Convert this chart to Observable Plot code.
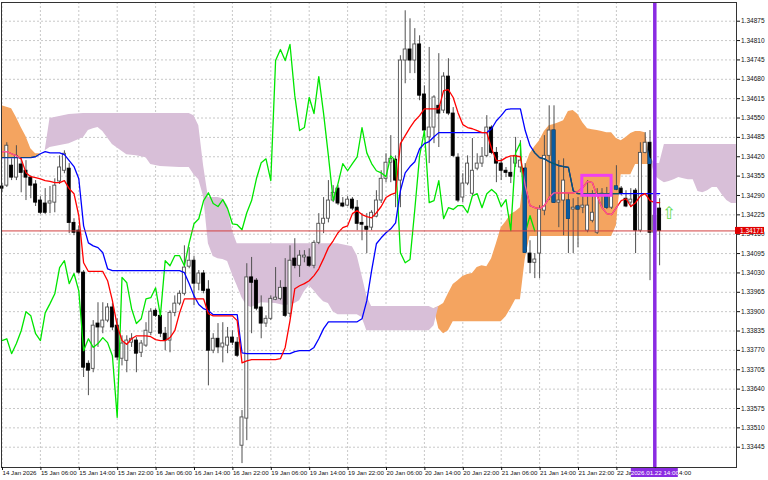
<!DOCTYPE html>
<html><head><meta charset="utf-8">
<script src="https://cdn.jsdelivr.net/npm/d3@7"></script>
<script src="https://cdn.jsdelivr.net/npm/@observablehq/plot@0.6"></script>
<style>html,body{margin:0;padding:0;background:#fff;}svg{display:block}</style>
</head><body>
<div id="chart"></div>
<script>
// ---- H1 candles (bar index 0 = 14 Jan 22:00) ----
const openP = [
1.34320,1.34323,1.34390,1.34350,1.34394,1.34373,1.34350,1.34327,1.34273,1.34263,
1.34263,1.34266,1.34337,1.34373,1.34380,1.34198,1.34172,1.34031,1.33725,1.33708,
1.33860,1.33847,1.33870,1.33914,1.33853,1.33742,1.33735,1.33796,1.33803,1.33762,
1.33786,1.33829,1.33903,1.33886,1.33826,1.33803,1.33896,1.33927,1.33960,1.34051,
1.34071,1.33994,1.34028,1.33974,1.33769,1.33809,1.33780,1.33786,1.33813,1.33796,
1.33450,1.33541,1.34015,1.34004,1.33914,1.33860,1.33876,1.33940,1.33943,1.33980,
1.33893,1.34078,1.34054,1.34082,1.34082,1.34054,1.34131,1.34195,1.34212,1.34273,
1.34313,1.34263,1.34256,1.34276,1.34249,1.34198,1.34185,1.34182,1.34219,1.34273,
1.34346,1.34400,1.34410,1.34340,1.34743,1.34780,1.34743,1.34797,1.34629,1.34485,
1.34518,1.34591,1.34575,1.34689,1.34565,1.34417,1.34283,1.34330,1.34296,1.34380,
1.34397,1.34423,1.34518,1.34433,1.34397,1.34373,1.34366,1.34397,1.34384,1.34380,
1.34095,1.34064,1.34095,1.34239,1.34423,1.34508,1.34266,1.34273,1.34273,1.34243,
1.34253,1.34249,1.34172,1.34205,1.34165,1.34289,1.34289,1.34249,1.34320,1.34313,
1.34279,1.34266,1.34306,1.34172,1.34433,1.34467,1.34165,1.34246];
const highP = [
1.34330,1.34467,1.34413,1.34457,1.34413,1.34407,1.34356,1.34340,1.34286,1.34313,
1.34320,1.34346,1.34423,1.34440,1.34397,1.34212,1.34188,1.34038,1.33735,1.33870,
1.33930,1.33930,1.33927,1.33927,1.33876,1.33819,1.33819,1.33826,1.33813,1.33803,
1.33863,1.33910,1.33910,1.33893,1.33847,1.33903,1.33953,1.33970,1.34121,1.34115,
1.34085,1.34038,1.34038,1.34004,1.33826,1.33860,1.33863,1.33847,1.33836,1.33813,
1.33568,1.34061,1.34082,1.34011,1.33953,1.33886,1.33953,1.34048,1.34004,1.34078,
1.34121,1.34145,1.34105,1.34105,1.34111,1.34138,1.34229,1.34283,1.34340,1.34323,
1.34323,1.34283,1.34286,1.34283,1.34273,1.34229,1.34229,1.34239,1.34306,1.34373,
1.34430,1.34491,1.34423,1.34759,1.34910,1.34883,1.34850,1.34826,1.34658,1.34787,
1.34625,1.34766,1.34702,1.34749,1.34585,1.34430,1.34363,1.34423,1.34481,1.34430,
1.34451,1.34558,1.34524,1.34451,1.34413,1.34384,1.34417,1.34485,1.34474,1.34397,
1.34138,1.34095,1.34256,1.34491,1.34591,1.34591,1.34407,1.34413,1.34296,1.34279,
1.34283,1.34289,1.34340,1.34306,1.34313,1.34313,1.34317,1.34340,1.34390,1.34320,
1.34306,1.34313,1.34313,1.34467,1.34501,1.34508,1.34256,1.34279];
const lowP = [
1.34299,1.34317,1.34340,1.34340,1.34299,1.34273,1.34279,1.34253,1.34226,1.34226,
1.34229,1.34232,1.34327,1.34363,1.34162,1.34155,1.34025,1.33679,1.33618,1.33695,
1.33780,1.33826,1.33863,1.33836,1.33735,1.33718,1.33695,1.33780,1.33695,1.33746,
1.33780,1.33819,1.33880,1.33813,1.33769,1.33762,1.33883,1.33920,1.33953,1.34044,
1.33920,1.33970,1.33960,1.33651,1.33759,1.33759,1.33728,1.33759,1.33786,1.33746,
1.33390,1.33467,1.33826,1.33903,1.33809,1.33847,1.33870,1.33937,1.33937,1.33880,
1.33880,1.34044,1.34015,1.34064,1.34048,1.34044,1.34125,1.34162,1.34198,1.34266,
1.34256,1.34249,1.34253,1.34239,1.34172,1.34138,1.34095,1.34172,1.34215,1.34263,
1.34333,1.34333,1.34249,1.34249,1.34665,1.34699,1.34699,1.34608,1.34498,1.34397,
1.34464,1.34451,1.34565,1.34558,1.34417,1.34266,1.34266,1.34323,1.34289,1.34373,
1.34384,1.34417,1.34427,1.34333,1.34340,1.34350,1.34330,1.34384,1.34366,1.34095,
1.34028,1.34011,1.34011,1.34222,1.34273,1.34263,1.34182,1.34155,1.34095,1.34095,
1.34115,1.34229,1.34165,1.34198,1.34159,1.34249,1.34243,1.34243,1.34306,1.34289,
1.34249,1.34249,1.34095,1.34165,1.34430,1.34004,1.34138,1.34054];
const closeP = [
1.34313,1.34457,1.34350,1.34423,1.34366,1.34350,1.34323,1.34266,1.34232,1.34232,
1.34270,1.34323,1.34384,1.34430,1.34198,1.34165,1.34031,1.33712,1.33702,1.33853,
1.33847,1.33870,1.33914,1.33847,1.33746,1.33793,1.33803,1.33809,1.33759,1.33793,
1.33836,1.33900,1.33886,1.33826,1.33803,1.33896,1.33927,1.33960,1.34048,1.34071,
1.33994,1.34028,1.33970,1.33769,1.33809,1.33780,1.33793,1.33813,1.33796,1.33752,
1.33545,1.34015,1.33997,1.33910,1.33860,1.33876,1.33943,1.33947,1.33980,1.33886,
1.34071,1.34054,1.34088,1.34088,1.34054,1.34131,1.34195,1.34212,1.34273,1.34299,
1.34263,1.34253,1.34276,1.34246,1.34195,1.34192,1.34175,1.34232,1.34273,1.34346,
1.34400,1.34413,1.34340,1.34743,1.34780,1.34743,1.34797,1.34625,1.34508,1.34518,
1.34619,1.34565,1.34689,1.34565,1.34423,1.34273,1.34330,1.34397,1.34373,1.34397,
1.34420,1.34518,1.34433,1.34397,1.34373,1.34366,1.34353,1.34423,1.34407,1.34098,
1.34064,1.34075,1.34243,1.34423,1.34508,1.34266,1.34273,1.34340,1.34212,1.34249,
1.34243,1.34256,1.34256,1.34232,1.34289,1.34296,1.34249,1.34296,1.34310,1.34296,
1.34253,1.34276,1.34172,1.34433,1.34467,1.34165,1.34222,1.34171];

// ---- Ichimoku lines (per bar) ----
const tenkan = [
1.34437,1.34437,1.34430,1.34423,1.34413,1.34366,1.34353,1.34350,1.34346,1.34340,
1.34337,1.34333,1.34333,1.34340,1.34313,1.34296,1.34222,1.34064,1.34035,1.34035,
1.34035,1.34035,1.34004,1.33937,1.33853,1.33803,1.33790,1.33809,1.33819,1.33819,
1.33819,1.33816,1.33806,1.33803,1.33803,1.33813,1.33836,1.33896,1.33943,1.33943,
1.33943,1.33943,1.33943,1.33893,1.33886,1.33886,1.33886,1.33886,1.33886,1.33870,
1.33728,1.33735,1.33739,1.33739,1.33739,1.33739,1.33739,1.33739,1.33742,1.33780,
1.33870,1.33977,1.33987,1.33994,1.34004,1.34021,1.34044,1.34078,1.34115,1.34138,
1.34165,1.34182,1.34188,1.34229,1.34239,1.34226,1.34219,1.34215,1.34232,1.34253,
1.34283,1.34293,1.34299,1.34464,1.34491,1.34518,1.34541,1.34558,1.34581,1.34581,
1.34581,1.34581,1.34642,1.34645,1.34619,1.34568,1.34528,1.34518,1.34514,1.34508,
1.34501,1.34501,1.34447,1.34407,1.34407,1.34417,1.34423,1.34423,1.34420,1.34323,
1.34256,1.34249,1.34246,1.34256,1.34283,1.34299,1.34299,1.34299,1.34299,1.34299,
1.34303,1.34317,1.34337,1.34333,1.34289,1.34249,1.34229,1.34226,1.34249,1.34273,
1.34279,1.34253,1.34266,1.34289,1.34296,1.34273,1.34266,1.34266];
const kijun = [
1.34417,1.34417,1.34417,1.34417,1.34417,1.34417,1.34417,1.34420,1.34430,1.34437,
1.34433,1.34433,1.34433,1.34427,1.34407,1.34387,1.34346,1.34188,1.34131,1.34121,
1.34115,1.34098,1.34044,1.34038,1.34038,1.34038,1.34038,1.34038,1.34038,1.34038,
1.34038,1.34038,1.34038,1.34038,1.34038,1.34038,1.34038,1.34038,1.34031,1.33994,
1.33953,1.33924,1.33910,1.33903,1.33890,1.33890,1.33890,1.33890,1.33890,1.33890,
1.33762,1.33759,1.33759,1.33759,1.33759,1.33759,1.33759,1.33759,1.33759,1.33759,
1.33759,1.33766,1.33769,1.33769,1.33769,1.33780,1.33809,1.33843,1.33866,1.33866,
1.33866,1.33866,1.33866,1.33866,1.33866,1.33876,1.33937,1.34038,1.34128,1.34148,
1.34165,1.34178,1.34198,1.34306,1.34366,1.34387,1.34403,1.34447,1.34464,1.34471,
1.34487,1.34501,1.34501,1.34501,1.34501,1.34501,1.34501,1.34501,1.34501,1.34501,
1.34501,1.34501,1.34514,1.34541,1.34558,1.34578,1.34581,1.34581,1.34581,1.34508,
1.34457,1.34433,1.34417,1.34413,1.34403,1.34397,1.34390,1.34387,1.34384,1.34306,
1.34296,1.34296,1.34296,1.34296,1.34296,1.34296,1.34296,1.34296,1.34296,1.34296,
1.34296,1.34296,1.34296,1.34296,1.34296,1.34296,1.34296,1.34296];
const CHIKOU_SHIFT = 26;

// ---- Kumo as displayed (bar positions incl. future bars) ----
const cloudBar = [
0,2,3,4,5,6,7,8,9,10,
14,17,18,19,20,21,23,26,28,30,
31,33,37,39,40,41,42,43,44,45,
46,47,48,49,50,51,52,54,57,59,
61,62,63,64,65,66,67,68,69,70,
73,74,75,76,77,84,85,86,87,88,
89,90,91,92,93,94,95,96,97,98,
99,100,101,102,103,104,105,106,107,108,
109,110,111,112,113,114,115,116,117,118,
119,120,121,122,123,124,125,126,127,128,
129,130,131,132,133,134,135,136,137,138,
139,140,141,142,143,144,145,146,147,148,
149,150,151,152,153];
const spanA = [
1.34591,1.34581,1.34552,1.34518,1.34488,1.34447,1.34430,1.34430,1.34440,1.34451,
1.34464,1.34485,1.34508,1.34514,1.34518,1.34505,1.34461,1.34427,1.34423,1.34417,
1.34394,1.34387,1.34384,1.34384,1.34360,1.34343,1.34286,1.34128,1.34085,1.34078,
1.34075,1.34068,1.34025,1.33987,1.33947,1.33920,1.33914,1.33930,1.33927,1.33920,
1.33927,1.33937,1.33967,1.33987,1.33970,1.33950,1.33933,1.33927,1.33900,1.33890,
1.33890,1.33890,1.33880,1.33836,1.33836,1.33836,1.33836,1.33836,1.33836,1.33836,
1.33836,1.33853,1.33917,1.33927,1.33960,1.33991,1.34004,1.34018,1.34025,1.34028,
1.34048,1.34054,1.34051,1.34078,1.34128,1.34182,1.34202,1.34226,1.34235,1.34249,
1.34387,1.34430,1.34454,1.34474,1.34505,1.34524,1.34528,1.34534,1.34541,1.34572,
1.34575,1.34562,1.34534,1.34514,1.34511,1.34508,1.34505,1.34501,1.34501,1.34481,
1.34474,1.34485,1.34498,1.34505,1.34505,1.34501,1.34417,1.34356,1.34343,1.34333,
1.34337,1.34343,1.34350,1.34346,1.34343,1.34343,1.34303,1.34299,1.34306,1.34317,
1.34317,1.34293,1.34273,1.34263,1.34263];
const spanB = [
1.34417,1.34417,1.34417,1.34417,1.34417,1.34417,1.34420,1.34430,1.34440,1.34548,
1.34562,1.34565,1.34565,1.34565,1.34565,1.34565,1.34565,1.34565,1.34565,1.34565,
1.34565,1.34565,1.34565,1.34565,1.34558,1.34524,1.34390,1.34283,1.34283,1.34283,
1.34279,1.34256,1.34172,1.34128,1.34128,1.34128,1.34128,1.34128,1.34128,1.34128,
1.34128,1.34128,1.34128,1.34128,1.34128,1.34128,1.34128,1.34128,1.34128,1.34128,
1.34118,1.34088,1.34021,1.33953,1.33917,1.33917,1.33917,1.33917,1.33917,1.33917,
1.33917,1.33910,1.33843,1.33826,1.33836,1.33866,1.33866,1.33866,1.33866,1.33866,
1.33866,1.33866,1.33866,1.33866,1.33866,1.33866,1.33883,1.33910,1.33940,1.33940,
1.34075,1.34152,1.34152,1.34152,1.34152,1.34152,1.34152,1.34152,1.34152,1.34152,
1.34152,1.34152,1.34152,1.34152,1.34152,1.34152,1.34152,1.34152,1.34152,1.34188,
1.34360,1.34360,1.34360,1.34394,1.34394,1.34394,1.34394,1.34397,1.34397,1.34461,
1.34461,1.34461,1.34461,1.34461,1.34461,1.34461,1.34461,1.34461,1.34461,1.34461,
1.34461,1.34461,1.34461,1.34461,1.34461];

// ---- Axis ticks and labels ----
const yTicks = [1.34875,1.34810,1.34745,1.34680,1.34615,1.34550,1.34485,1.34420,1.34355,1.34290,1.34225,1.34160,
  1.34095,1.34030,1.33965,1.33900,1.33835,1.33770,1.33705,1.33640,1.33575,1.33510,1.33445];
const xTickBars = [0,8,16,24,32,40,48,56,64,72,80,88,96,104,112,120,128,136];
const xTickLabels = ["14 Jan 2026","15 Jan 06:00","15 Jan 14:00","15 Jan 22:00","16 Jan 06:00","16 Jan 14:00",
  "16 Jan 22:00","19 Jan 06:00","19 Jan 14:00","19 Jan 22:00","20 Jan 06:00","20 Jan 14:00","20 Jan 22:00",
  "21 Jan 06:00","21 Jan 14:00","21 Jan 22:00","22 Jan 06:00","22 Jan 14:00"];

// ---- chart objects ----
const LAST_PRICE = 1.34171;
const VLINE_BAR = 136;
const VLINE_LABEL = "2026.01.22 14:00";
const boxObj = [{x1: 120.9, x2: 127.0, top: 1.34356, bottom: 1.34289}];
const arrowObj = [{bar: 139, price: 1.34229}];

const X_DOMAIN = [-0.104, 153.02];
const Y_DOMAIN = [1.333769, 1.349378];

// colours
const KUMO_UP = "#f4a460", KUMO_DOWN = "#d8bfd8";
const INV_BEAR = "#0b5b9f", INV_KIJUN = "#0b5b60", INV_TENKAN = "#f45b9f";

const bars = openP.map((o, i) => ({i, open: o, high: highP[i], low: lowP[i], close: closeP[i]}));
const bulls = bars.filter(d => d.close >= d.open);
const bears = bars.filter(d => d.close < d.open);
const cloud = cloudBar.map((b, k) => ({bar: b, a: spanA[k], b: spanB[k]}));
const idx = (d, i) => i;
const val = d => d;
const upper = d => Math.max(d.a, d.b);

const chart = Plot.plot({
  width: 768, height: 480,
  marginLeft: 1, marginRight: 32, marginTop: 2, marginBottom: 13,
  x: {domain: X_DOMAIN, axis: null},
  y: {domain: Y_DOMAIN, axis: null},
  style: {fontFamily: "'Liberation Sans', Arial, sans-serif", fontSize: "6.2px", background: "white", color: "#111"},
  marks: [
    Plot.frame({fill: "white"}),
    Plot.gridY(yTicks, {stroke: "#c8c8c8", strokeOpacity: 1, strokeDasharray: "2,2"}),
    Plot.gridX(xTickBars, {stroke: "#c8c8c8", strokeOpacity: 1, strokeDasharray: "2,2"}),
    // Kumo: Senkou A above B -> sandy brown, B above A -> thistle
    Plot.areaY(cloud, {x: "bar", y1: "b", y2: upper, fill: KUMO_UP}),
    Plot.areaY(cloud, {x: "bar", y1: "a", y2: upper, fill: KUMO_DOWN}),
    // candles
    Plot.ruleX(bars, {x: "i", y1: "low", y2: "high", stroke: "#505050", strokeWidth: 1}),
    Plot.rect(bulls, {x1: "i", x2: "i", y1: "open", y2: "close", insetLeft: -1.5, insetRight: -1.5, fill: "white", stroke: "#505050", strokeWidth: 0.9}),
    Plot.rect(bears, {x1: "i", x2: "i", y1: "open", y2: "close", insetLeft: -1.5, insetRight: -1.5, fill: "black", stroke: "black", strokeWidth: 0.9}),
    // Ichimoku lines
    Plot.line(closeP, {x: (d, i) => i - CHIKOU_SHIFT, y: val, stroke: "#00e600", strokeWidth: 1.3, clip: true}),
    Plot.line(kijun, {x: idx, y: val, stroke: "#0000ff", strokeWidth: 1.3}),
    Plot.line(tenkan, {x: idx, y: val, stroke: "#ff0000", strokeWidth: 1.3}),
    // the terminal inverts what lies under the sandy-brown kumo: same marks, inverted colours, clipped to it below
    Plot.rect(bears, {x1: "i", x2: "i", y1: "open", y2: "close", insetLeft: -1.5, insetRight: -1.5, fill: INV_BEAR, stroke: INV_BEAR, strokeWidth: 0.9}),
    Plot.line(kijun, {x: idx, y: val, stroke: INV_KIJUN, strokeWidth: 1.3}),
    Plot.line(tenkan, {x: idx, y: val, stroke: INV_TENKAN, strokeWidth: 1.3}),
    // objects
    Plot.ruleY([LAST_PRICE], {stroke: "#d24040", strokeWidth: 1}),
    Plot.rect(boxObj, {x1: "x1", x2: "x2", y1: "top", y2: "bottom", fill: "none", stroke: "#f040f0", strokeWidth: 3}),
    Plot.ruleX([VLINE_BAR], {stroke: "#8a2be2", strokeWidth: 3.5}),
    Plot.text(arrowObj, {x: "bar", y: "price", text: () => "⇧", fontSize: 17, fill: "#66dd55", fontFamily: "DejaVu Sans"}),
    Plot.frame({stroke: "#333"}),
    // axes
    Plot.axisY(yTicks, {anchor: "right", tickSize: 3, tickPadding: 1.5, tickFormat: d => d.toFixed(5), fontSize: 6.5}),
    Plot.axisX(xTickBars, {anchor: "bottom", tickSize: 3, tickPadding: 0, textAnchor: "start", dx: 0.5,
      tickFormat: d => xTickLabels[xTickBars.indexOf(d)], fontSize: 6.2}),
    // current price tag
    Plot.rect([LAST_PRICE], {x1: () => X_DOMAIN[1], x2: () => X_DOMAIN[1], y1: val, y2: val,
      insetLeft: -1, insetRight: -28, insetTop: -3.5, insetBottom: -3.5, fill: "#e00000"}),
    Plot.text([LAST_PRICE], {x: () => X_DOMAIN[1], y: val, text: d => d.toFixed(5), dx: 3.5, textAnchor: "start", fill: "white", fontSize: 6.5}),
    // vertical line time tag
    Plot.rect([VLINE_BAR], {x1: val, x2: val, y1: () => Y_DOMAIN[0], y2: () => Y_DOMAIN[0],
      insetLeft: -23.5, insetRight: -23.5, insetTop: 1, insetBottom: -10, fill: "#8a2be2"}),
    Plot.text([VLINE_BAR], {x: val, y: () => Y_DOMAIN[0], dy: 6, text: () => VLINE_LABEL, fill: "white", fontSize: 6.2})
  ]
});
// clip the inverted copies to the sandy-brown kumo area drawn by Plot
(function () {
  const ns = "http://www.w3.org/2000/svg";
  const groups = Array.from(chart.querySelectorAll("g"));
  const attr = (g, a) => (g.getAttribute(a) || "").toLowerCase();
  const kumoG = groups.find(g => attr(g, "fill") === KUMO_UP);
  const src = kumoG && kumoG.querySelector("path");
  const inv = groups.filter(g => attr(g, "fill") === INV_BEAR || attr(g, "stroke") === INV_KIJUN || attr(g, "stroke") === INV_TENKAN);
  if (!src) { inv.forEach(g => g.remove()); return; }
  const defs = document.createElementNS(ns, "defs");
  const cp = document.createElementNS(ns, "clipPath");
  cp.setAttribute("id", "kumoUpClip");
  const p = document.createElementNS(ns, "path");
  p.setAttribute("d", src.getAttribute("d"));
  const t = src.getAttribute("transform") || kumoG.getAttribute("transform");
  if (t) p.setAttribute("transform", t);
  cp.appendChild(p);
  defs.appendChild(cp);
  chart.insertBefore(defs, chart.firstChild);
  inv.forEach(g => g.setAttribute("clip-path", "url(#kumoUpClip)"));
})();
document.getElementById("chart").appendChild(chart);
</script>
</body></html>
